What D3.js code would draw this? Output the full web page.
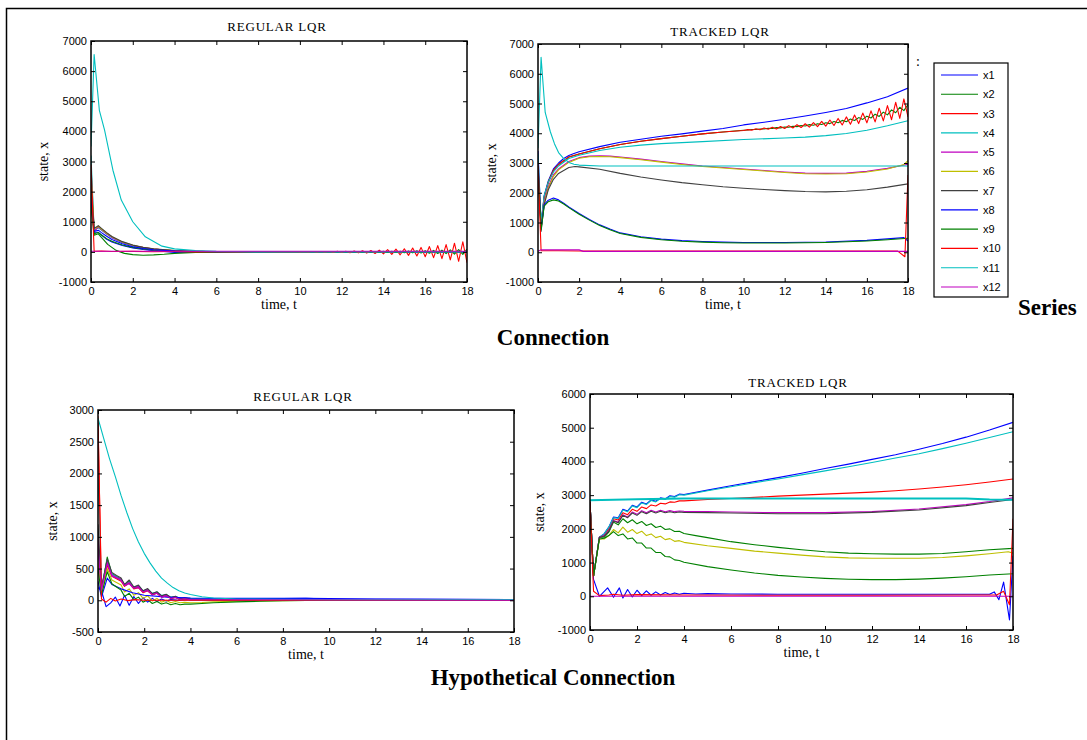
<!DOCTYPE html>
<html>
<head>
<meta charset="utf-8">
<script src="https://cdn.jsdelivr.net/npm/d3@7"></script>
<style>
  body { margin: 0; background: #fff; }
  svg { display: block; }
  .tick text { font-family: "Liberation Sans", Arial, sans-serif; font-size: 11px; fill: #000; }
  .ttl { font-family: "Liberation Serif", "Times New Roman", serif; font-size: 13px; letter-spacing: 0.8px; }
  .lab { font-family: "Liberation Serif", "Times New Roman", serif; font-size: 14px; }
  .big { font-family: "Liberation Serif", "Times New Roman", serif; font-size: 23px; font-weight: bold; }
</style>
</head>
<body>
<svg id="chart" width="1087" height="740"></svg>
<script>
/* series names and colours (MATLAB default order) */
const seriesNames = ["x1", "x2", "x3", "x4", "x5", "x6", "x7", "x8", "x9", "x10", "x11", "x12"];
const seriesColors = ["#0000ff", "#008000", "#ff0000", "#00bfbf", "#bf00bf", "#bfbf00",
    "#404040", "#0000ff", "#008000", "#ff0000", "#00bfbf", "#bf00bf"];

const xTicks = [0, 2, 4, 6, 8, 10, 12, 14, 16, 18];
const yTicksConn = [-1000, 0, 1000, 2000, 3000, 4000, 5000, 6000, 7000];
const yTicksHypoReg = [-500, 0, 500, 1000, 1500, 2000, 2500, 3000];
const yTicksHypoTrk = [-1000, 0, 1000, 2000, 3000, 4000, 5000, 6000];

/* Connection - regular LQR, [t, x] pairs per state */
const connRegular = [
    [[0,1800],[0.15,650],[0.35,650],[0.5,560],[0.75,420],[1,330],[1.5,210],[2,130],[2.5,80],[3,40],[3.5,10],[4,-20],[5,-10],[6,0],[18,0]],
    [[0,2000],[0.15,600],[0.35,640],[0.5,560],[0.75,440],[1,350],[1.5,230],[2,150],[2.5,95],[3,55],[4,15],[5,5],[6,0],[18,0]],
    [[0,2900],[0.15,700],[0.35,820],[0.5,740],[0.75,600],[1,480],[1.5,320],[2,210],[2.5,140],[3,90],[4,35],[5,10],[6,0],[18,0]],
    [[0,3200],[0.15,720],[0.35,800],[0.5,720],[0.75,590],[1,470],[1.5,310],[2,200],[2.5,130],[3,85],[4,30],[5,10],[6,5],[8,0],[18,0]],
    [[0,2000],[0.15,700],[0.35,820],[0.5,740],[0.75,600],[1,480],[1.5,320],[2,210],[2.5,140],[3,90],[4,35],[5,15],[6,5],[8,0],[18,0]],
    [[0,2500],[0.15,750],[0.35,850],[0.5,760],[0.75,620],[1,500],[1.5,330],[2,220],[2.5,145],[3,95],[4,40],[5,15],[6,5],[8,0],[18,0]],
    [[0,2300],[0.15,780],[0.35,870],[0.5,780],[0.75,640],[1,510],[1.5,340],[2,225],[2.5,150],[3,100],[4,40],[5,15],[6,5],[8,0],[18,0]],
    [[0,1600],[0.15,680],[0.35,720],[0.5,640],[0.75,520],[1,410],[1.5,270],[2,170],[2.5,110],[3,70],[4,25],[5,5],[6,0],[18,0]],
    [[0,1500],[0.15,550],[0.35,600],[0.5,480],[0.8,250],[1.2,50],[1.6,-50],[2,-90],[2.5,-110],[3,-100],[3.5,-80],[4,-50],[5,-20],[6,-5],[8,0],[12.8,0],
     [13,-9],[13.2,10],[13.4,-12],[13.6,13],[13.8,-15],[14,16],[14.2,-18],[14.4,20],[14.6,-22],[14.8,24],[15,-26],[15.2,29],[15.4,-32],[15.6,35],[15.8,-37],
     [16,40],[16.2,-44],[16.4,48],[16.6,-52],[16.8,56],[17,-60],[17.2,66],[17.4,-72],[17.6,78],[17.8,-84],[18,90]],
    [[0,2900],[0.15,20],[0.5,30],[1,10],[2,15],[3,5],[4,10],[5,0],[6,5],[7,-5],[8,6],[9,-6],[9.8,7],
     [10,-8],[10.2,9],[10.4,-10],[10.6,10],[10.8,-11],[11,12],[11.2,-13],[11.4,15],[11.6,-16],[11.8,18],[12,-20],[12.2,23],[12.4,-26],[12.6,29],[12.8,-32],
     [13,35],[13.2,-41],[13.4,47],[13.6,-53],[13.8,59],[14,-65],[14.2,73],[14.4,-81],[14.6,89],[14.8,-97],[15,105],[15.2,-116],[15.4,127],[15.6,-138],[15.8,149],
     [16,-160],[16.2,176],[16.4,-192],[16.6,208],[16.8,-224],[17,240],[17.2,-264],[17.4,288],[17.6,-312],[17.8,336],[18,-360]],
    [[0,3500],[0.15,6550],[0.4,4700],[0.65,4040],[1.05,2710],[1.45,1720],[2,1000],[2.6,500],[3.4,190],[4,100],[5,40],[6,15],[8,0],[18,0]],
    [[0,20],[18,20]]
];

/* Connection - tracked LQR */
const connTracked = [
    [[0,3400],[0.15,900],[0.3,1900],[0.5,2400],[0.75,2800],[1,3000],[1.25,3150],[1.5,3250],[1.75,3320],[2,3380],[3,3550],[4,3700],[5,3800],[6,3900],[7,3980],[8,4070],[9,4160],[10,4280],[11,4370],[12,4470],[13,4580],[14,4700],[15,4830],[16,5020],[17,5230],[18,5520]],
    [[0,2900],[0.15,900],[0.3,1850],[0.5,2350],[0.75,2750],[1,2950],[1.5,3200],[2,3300],[3,3480],[4,3620],[5,3730],[6,3820],[7,3900],[8,3980],[9,4040],
     [10,4103],[10.2,4107],[10.4,4124],[10.6,4125],[10.8,4145],[11,4144],[11.2,4167],[11.4,4162],[11.6,4188],[11.8,4181],[12,4210],[12.2,4201],[12.4,4236],[12.6,4223],[12.8,4262],
     [13,4245],[13.2,4290],[13.4,4270],[13.6,4321],[13.8,4295],[14,4352],[14.2,4324],[14.4,4392],[14.6,4356],[14.8,4432],[15,4388],[15.2,4477],[15.4,4427],[15.6,4526],[15.8,4466],
     [16,4575],[16.2,4512],[16.4,4642],[16.6,4565],[16.8,4709],[17,4618],[17.2,4786],[17.4,4690],[17.6,4874],[17.8,4762],[18,4962]],
    [[0,2900],[0.15,900],[0.3,1850],[0.5,2350],[0.75,2750],[1,2950],[1.5,3200],[2,3300],[3,3480],[4,3620],[5,3730],[6,3820],[7,3900],[8,3980],[9,4040],
     [10,4090],[10.2,4123],[10.4,4104],[10.6,4149],[10.8,4118],[11,4175],[11.2,4132],[11.4,4201],[11.6,4146],[11.8,4227],[12,4160],[12.2,4256],[12.4,4176],[12.6,4288],[12.8,4192],
     [13,4320],[13.2,4208],[13.4,4360],[13.6,4224],[13.8,4400],[14,4240],[14.2,4446],[14.4,4260],[14.6,4498],[14.8,4280],[15,4550],[15.2,4302],[15.4,4614],[15.6,4326],[15.8,4678],
     [16,4350],[16.2,4754],[16.4,4382],[16.6,4842],[16.8,4414],[17,4930],[17.2,4454],[17.4,5042],[17.6,4502],[17.8,5154],[18,4550]],
    [[0,3300],[0.15,1000],[0.3,1900],[0.5,2350],[0.75,2700],[1,2900],[1.5,3150],[2,3260],[3,3420],[4,3530],[5,3600],[6,3650],[8,3720],[10,3790],[12,3840],[13,3870],[14,3920],[15,3990],[16,4100],[17,4250],[18,4420]],
    [[0,3000],[0.15,800],[0.3,1700],[0.5,2200],[0.75,2600],[1,2800],[1.5,3050],[2,3180],[2.5,3230],[3,3240],[3.5,3230],[4,3200],[5,3130],[6,3050],[7,2970],[8,2900],[9,2850],[10,2800],[11,2750],[12,2700],[13,2660],[14,2650],[15,2660],[16,2720],[17,2820],[18,2960]],
    [[0,3000],[0.15,800],[0.3,1650],[0.5,2150],[0.75,2550],[1,2770],[1.5,3020],[2,3160],[2.5,3210],[3,3220],[3.5,3210],[4,3180],[5,3110],[6,3030],[7,2950],[8,2880],[9,2830],[10,2780],[11,2730],[12,2680],[13,2640],[14,2630],[15,2640],[16,2700],[17,2800],[17.8,2950],[18,3080]],
    [[0,2900],[0.15,700],[0.3,1600],[0.5,2100],[0.75,2450],[1,2650],[1.5,2850],[1.8,2880],[2,2870],[3,2790],[4,2650],[5,2530],[6,2430],[7,2340],[8,2270],[9,2200],[10,2150],[11,2110],[12,2070],[13,2040],[14,2030],[15,2050],[16,2100],[17,2190],[18,2300]],
    [[0,3000],[0.15,800],[0.3,1600],[0.5,1750],[0.75,1820],[1,1760],[1.25,1650],[1.5,1520],[2,1300],[2.5,1100],[3,920],[3.5,780],[4,650],[5,520],[6,440],[7,390],[8,360],[9,340],[10,330],[12,330],[14,345],[16,400],[17,450],[17.8,490],[18,380]],
    [[0,2900],[0.15,750],[0.3,1550],[0.5,1700],[0.75,1760],[1,1720],[1.25,1620],[1.5,1500],[2,1280],[2.5,1080],[3,900],[3.5,760],[4,630],[5,500],[6,420],[7,370],[8,340],[9,320],[10,310],[12,310],[14,330],[16,380],[17,420],[18,470]],
    [[0,2900],[0.15,50],[1,50],[2,40],[6,40],[10,40],[14,40],[17.5,40],[17.85,-150],[18,2600]],
    [[0,3500],[0.15,6550],[0.35,4700],[0.6,4050],[0.8,3650],[1,3350],[1.25,3150],[1.5,3020],[1.75,2960],[2,2930],[3,2900],[18,2900]],
    [[0,30],[0.15,80],[2,80],[2.2,30],[18,30]]
];

/* Hypothetical connection - regular LQR */
const hypoRegular = [
    [[0,200],[0.15,150],[0.35,-100],[0.55,-40],[0.75,50],[0.95,-90],[1.15,80],[1.35,-80],[1.55,60],[1.75,-50],[1.95,40],[2.15,-30],[2.35,30],[2.55,-20],[2.75,20],[2.95,-10],[3.15,10],[3.5,0],[5,20],[7,25],[9,30],[10,20],[18,10]],
    [[0,900],[0.15,150],[0.4,680],[0.6,420],[0.8,370],[1,330],[1.15,230],[1.35,300],[1.55,190],[1.75,220],[1.95,130],[2.15,165],[2.35,90],[2.55,120],[2.75,55],[2.95,80],[3.15,30],[3.35,50],[3.55,10],[3.75,25],[4,5],[5,0],[18,0]],
    [[0,2800],[0.15,200],[0.4,550],[0.6,380],[0.8,340],[1,300],[1.15,220],[1.35,270],[1.55,180],[1.75,200],[1.95,120],[2.15,150],[2.35,85],[2.55,110],[2.75,50],[2.95,70],[3.15,30],[3.35,45],[3.55,15],[3.75,25],[4,10],[18,0]],
    [[0,2000],[0.15,200],[0.4,640],[0.6,410],[0.8,370],[1,320],[1.15,250],[1.35,290],[1.55,205],[1.75,230],[1.95,150],[2.15,175],[2.35,110],[2.55,130],[2.75,75],[2.95,90],[3.15,50],[3.35,60],[3.55,35],[3.75,40],[4,30],[4.5,25],[5,20],[6,15],[10,10],[18,5]],
    [[0,1000],[0.15,180],[0.4,600],[0.6,400],[0.8,360],[1,330],[1.15,240],[1.35,280],[1.55,200],[1.75,220],[1.95,140],[2.15,170],[2.35,100],[2.55,125],[2.75,60],[2.95,85],[3.15,40],[3.35,55],[3.55,20],[3.75,35],[4,15],[5,10],[18,5]],
    [[0,600],[0.15,100],[0.4,500],[0.6,320],[0.8,280],[1,240],[1.15,130],[1.35,180],[1.55,80],[1.75,120],[1.95,30],[2.15,70],[2.35,-10],[2.55,30],[2.75,-30],[2.95,0],[3.15,-40],[3.35,-20],[3.55,-40],[3.75,-30],[4,-40],[4.5,-35],[5,-25],[6,-15],[8,-5],[10,0],[18,0]],
    [[0,1200],[0.15,200],[0.4,650],[0.6,440],[0.8,390],[1,350],[1.15,250],[1.35,320],[1.55,210],[1.75,240],[1.95,150],[2.15,185],[2.35,105],[2.55,135],[2.75,70],[2.95,95],[3.15,45],[3.35,65],[3.55,25],[3.75,40],[4,20],[4.5,15],[5,10],[6,5],[18,0]],
    [[0,300],[0.15,50],[0.4,350],[0.6,250],[1,180],[1.5,120],[2,80],[3,50],[4,35],[6,30],[9,30],[12,20],[18,10]],
    [[0,500],[0.15,80],[0.4,450],[0.6,260],[0.8,210],[1,160],[1.15,60],[1.35,110],[1.55,10],[1.75,50],[1.95,-30],[2.15,10],[2.35,-50],[2.55,-20],[2.75,-60],[2.95,-40],[3.15,-70],[3.35,-50],[3.55,-70],[3.75,-60],[4,-60],[4.5,-50],[5,-40],[6,-25],[7,-15],[8,-8],[10,0],[18,0]],
    [[0,2900],[0.15,20],[0.35,-30],[0.55,30],[0.75,-10],[1,20],[1.3,-5],[1.6,10],[2,0],[18,0]],
    [[0,2870],[0.25,2550],[0.5,2230],[0.75,1950],[1,1650],[1.25,1380],[1.5,1130],[1.75,920],[2,740],[2.25,590],[2.5,460],[2.75,350],[3,270],[3.25,200],[3.5,150],[3.75,115],[4,90],[4.5,55],[5,35],[6,20],[8,15],[10,10],[18,10]],
    [[0,800],[0.15,160],[0.4,580],[0.6,380],[0.8,350],[1,310],[1.15,230],[1.35,260],[1.55,190],[1.75,200],[1.95,130],[2.15,150],[2.35,90],[2.55,110],[2.75,50],[2.95,70],[3.15,30],[3.35,45],[3.55,15],[3.75,25],[4,10],[18,0]]
];

/* Hypothetical connection - tracked LQR */
const hypoTracked = [
    [[0,2800],[0.15,600],[0.4,1750],[0.6,1850],[0.8,2050],[1,2350],[1.2,2330],[1.4,2580],[1.6,2530],[1.8,2700],[2,2650],[2.2,2790],[2.4,2740],[2.6,2860],[2.8,2820],[3,2920],[3.2,2890],[3.4,2980],[3.6,2960],[3.8,3030],[4,3020],[5,3150],[6,3280],[7,3400],[8,3520],[9,3650],[10,3790],[11,3920],[12,4060],[13,4200],[14,4360],[15,4530],[16,4720],[17,4930],[18,5160]],
    [[0,2800],[0.15,600],[0.4,1750],[0.6,1750],[0.8,1900],[1,2200],[1.2,2120],[1.4,2300],[1.6,2180],[1.8,2270],[2,2150],[2.2,2220],[2.4,2100],[2.6,2150],[2.8,2040],[3,2080],[3.2,1980],[3.4,2000],[3.6,1920],[3.8,1930],[4,1860],[4.5,1800],[5,1740],[6,1620],[7,1530],[8,1450],[9,1380],[10,1320],[11,1280],[12,1260],[13,1250],[14,1250],[15,1270],[16,1320],[17,1380],[18,1420]],
    [[0,2800],[0.15,600],[0.4,1750],[0.6,1820],[0.8,2000],[1,2300],[1.2,2260],[1.4,2480],[1.6,2420],[1.8,2580],[2,2520],[2.2,2650],[2.4,2600],[2.6,2710],[2.8,2680],[3,2760],[3.2,2740],[3.4,2800],[3.6,2790],[3.8,2830],[4,2830],[5,2870],[6,2900],[8,2970],[10,3030],[12,3090],[13,3130],[14,3180],[15,3240],[16,3310],[17,3390],[18,3480]],
    [[0,2800],[0.15,600],[0.4,1750],[0.6,1850],[0.8,2050],[1,2330],[1.2,2310],[1.4,2560],[1.6,2510],[1.8,2680],[2,2630],[2.2,2770],[2.4,2720],[2.6,2840],[2.8,2800],[3,2900],[3.2,2870],[3.4,2960],[3.6,2940],[3.8,3010],[4,3000],[5,3130],[6,3250],[7,3370],[8,3480],[9,3600],[10,3720],[11,3840],[12,3970],[13,4100],[14,4230],[15,4380],[16,4540],[17,4710],[18,4880]],
    [[0,2800],[0.15,600],[0.4,1750],[0.6,1800],[0.8,1950],[1,2250],[1.2,2200],[1.4,2420],[1.6,2350],[1.8,2500],[2,2430],[2.2,2540],[2.4,2480],[2.6,2550],[2.8,2500],[3,2550],[3.2,2510],[3.4,2540],[3.6,2510],[3.8,2530],[4,2520],[5,2510],[6,2500],[8,2480],[10,2480],[12,2510],[14,2590],[16,2720],[17,2810],[18,2920]],
    [[0,2800],[0.15,600],[0.4,1700],[0.6,1700],[0.8,1800],[1,1980],[1.2,1880],[1.4,2050],[1.6,1900],[1.8,1980],[2,1860],[2.2,1930],[2.4,1800],[2.6,1850],[2.8,1740],[3,1780],[3.2,1680],[3.4,1710],[3.6,1630],[3.8,1650],[4,1600],[5,1500],[6,1420],[7,1340],[8,1280],[9,1220],[10,1170],[11,1140],[12,1130],[13,1130],[14,1130],[15,1150],[16,1200],[17,1260],[17.8,1320],[18,1280]],
    [[0,2800],[0.15,600],[0.4,1750],[0.6,1780],[0.8,1930],[1,2230],[1.2,2180],[1.4,2400],[1.6,2330],[1.8,2470],[2,2400],[2.2,2510],[2.4,2450],[2.6,2520],[2.8,2470],[3,2520],[3.2,2480],[3.4,2510],[3.6,2480],[3.8,2500],[4,2490],[5,2480],[6,2470],[8,2450],[10,2450],[12,2490],[14,2560],[16,2690],[17,2780],[18,2870]],
    [[0,2800],[0.15,500],[0.4,0],[0.75,250],[1,-30],[1.25,250],[1.4,-50],[1.6,200],[1.8,-20],[2,180],[2.2,20],[2.4,160],[2.6,30],[2.8,130],[3,40],[3.2,110],[3.4,50],[3.6,100],[3.8,60],[4,90],[4.5,70],[5,80],[6,70],[8,60],[12,60],[16,60],[17,60],[17.2,130],[17.4,-100],[17.6,420],[17.85,-700],[18,1200]],
    [[0,2800],[0.15,600],[0.4,1700],[0.6,1720],[0.8,1800],[1,1920],[1.2,1800],[1.4,1850],[1.6,1700],[1.8,1730],[2,1580],[2.2,1580],[2.4,1430],[2.6,1430],[2.8,1300],[3,1300],[3.2,1180],[3.4,1170],[3.6,1080],[3.8,1060],[4,1010],[5,880],[6,780],[7,690],[8,620],[9,570],[10,530],[11,505],[12,495],[13,495],[14,510],[15,540],[16,580],[17,630],[18,670]],
    [[0,2800],[0.15,150],[0.4,20],[0.8,40],[1,60],[1.4,30],[2,50],[4,40],[8,30],[12,30],[16,40],[17.3,40],[17.6,150],[17.85,-250],[18,2300]],
    [[0,2850],[2,2880],[4,2900],[10,2900],[16,2900],[17,2870],[18,2860]],
    [[0,0],[18,0]]
];

const svg = d3.select("#chart");

// outer frame (left + top edges visible)
svg.append("path")
    .attr("d", "M6.5,740V8.5H1087")
    .attr("fill", "none")
    .attr("stroke", "#000")
    .attr("stroke-width", 1.5);

function drawPanel(box, title, yDomain, yTicks, data, key) {
    var x = d3.scaleLinear().domain([0, 18]).range([box.left, box.right]);
    var y = d3.scaleLinear().domain(yDomain).range([box.bottom, box.top]);
    var g = svg.append("g");
    var plain = d => String(d);

    g.append("clipPath").attr("id", "clip-" + key)
        .append("rect")
        .attr("x", box.left).attr("y", box.top)
        .attr("width", box.right - box.left).attr("height", box.bottom - box.top);

    var line = d3.line().x(d => x(d[0])).y(d => y(d[1]));
    g.append("g").attr("clip-path", "url(#clip-" + key + ")")
        .selectAll("path").data(data).join("path")
        .attr("d", line)
        .attr("fill", "none")
        .attr("stroke", (d, i) => seriesColors[i])
        .attr("stroke-width", (d, i) => (key == "ht" && i == 10) ? 2 : 1.1)
        .attr("stroke-linejoin", "round");

    // axes with inward ticks on all four sides
    g.append("g").attr("transform", "translate(0," + box.bottom + ")")
        .call(d3.axisBottom(x).tickValues(xTicks).tickFormat(plain).tickSizeInner(-4).tickSizeOuter(0).tickPadding(5));
    g.append("g").attr("transform", "translate(0," + box.top + ")")
        .call(d3.axisTop(x).tickValues(xTicks).tickSizeInner(-4).tickSizeOuter(0).tickFormat(""));
    g.append("g").attr("transform", "translate(" + box.left + ",0)")
        .call(d3.axisLeft(y).tickValues(yTicks).tickFormat(plain).tickSizeInner(-4).tickSizeOuter(0).tickPadding(4));
    g.append("g").attr("transform", "translate(" + box.right + ",0)")
        .call(d3.axisRight(y).tickValues(yTicks).tickSizeInner(-4).tickSizeOuter(0).tickFormat(""));
    g.selectAll(".domain").remove();
    g.selectAll(".tick line").attr("stroke", "#000");

    g.append("rect")
        .attr("x", box.left).attr("y", box.top)
        .attr("width", box.right - box.left).attr("height", box.bottom - box.top)
        .attr("fill", "none").attr("stroke", "#000").attr("stroke-width", 1.5);

    g.append("text").attr("class", "ttl")
        .attr("x", box.titleX).attr("y", box.top - box.titleGap)
        .attr("text-anchor", "middle").text(title);
    g.append("text").attr("class", "lab")
        .attr("x", (box.left + box.right) / 2).attr("y", box.bottom + 27)
        .attr("text-anchor", "middle").text("time, t");
    g.append("text").attr("class", "lab")
        .attr("transform", "translate(" + box.yLabX + "," + (box.top + box.bottom) / 2 + ") rotate(-90)")
        .attr("text-anchor", "middle").text("state, x");
}

drawPanel({ left: 91, right: 467, top: 41, bottom: 282, titleX: 277, titleGap: 10, yLabX: 48 },
    "REGULAR LQR", [-1000, 7000], yTicksConn, connRegular, "cr");
drawPanel({ left: 538, right: 908, top: 44, bottom: 282, titleX: 720, titleGap: 8, yLabX: 496 },
    "TRACKED LQR", [-1000, 7000], yTicksConn, connTracked, "ct");
drawPanel({ left: 98, right: 514, top: 410, bottom: 632, titleX: 303, titleGap: 9, yLabX: 57 },
    "REGULAR LQR", [-500, 3000], yTicksHypoReg, hypoRegular, "hr");
drawPanel({ left: 590, right: 1013, top: 394, bottom: 630, titleX: 798, titleGap: 7, yLabX: 544 },
    "TRACKED LQR", [-1000, 6000], yTicksHypoTrk, hypoTracked, "ht");

// stray mark beside the tracked panel
svg.append("text").attr("class", "lab").attr("x", 916).attr("y", 66).text(":");

// legend
var leg = svg.append("g");
leg.append("rect").attr("x", 934).attr("y", 63).attr("width", 74).attr("height", 234)
    .attr("fill", "#fff").attr("stroke", "#000").attr("stroke-width", 1.2);
var legY = d3.scalePoint().domain(seriesNames).range([75, 287]);
var items = leg.selectAll("g.item").data(seriesNames).join("g").attr("class", "item")
    .attr("transform", d => "translate(0," + legY(d) + ")");
items.append("line").attr("x1", 941).attr("x2", 978)
    .attr("stroke", (d, i) => seriesColors[i]).attr("stroke-width", 1.2);
items.append("text").attr("x", 983).attr("y", 4)
    .style("font-family", "Liberation Sans, Arial, sans-serif").style("font-size", "11px")
    .text(d => d);

svg.append("text").attr("class", "big").attr("x", 1018).attr("y", 315).text("Series");
svg.append("text").attr("class", "big").attr("x", 553).attr("y", 345).attr("text-anchor", "middle").text("Connection");
svg.append("text").attr("class", "big").attr("x", 553).attr("y", 685).attr("text-anchor", "middle").text("Hypothetical Connection");
</script>
</body>
</html>
